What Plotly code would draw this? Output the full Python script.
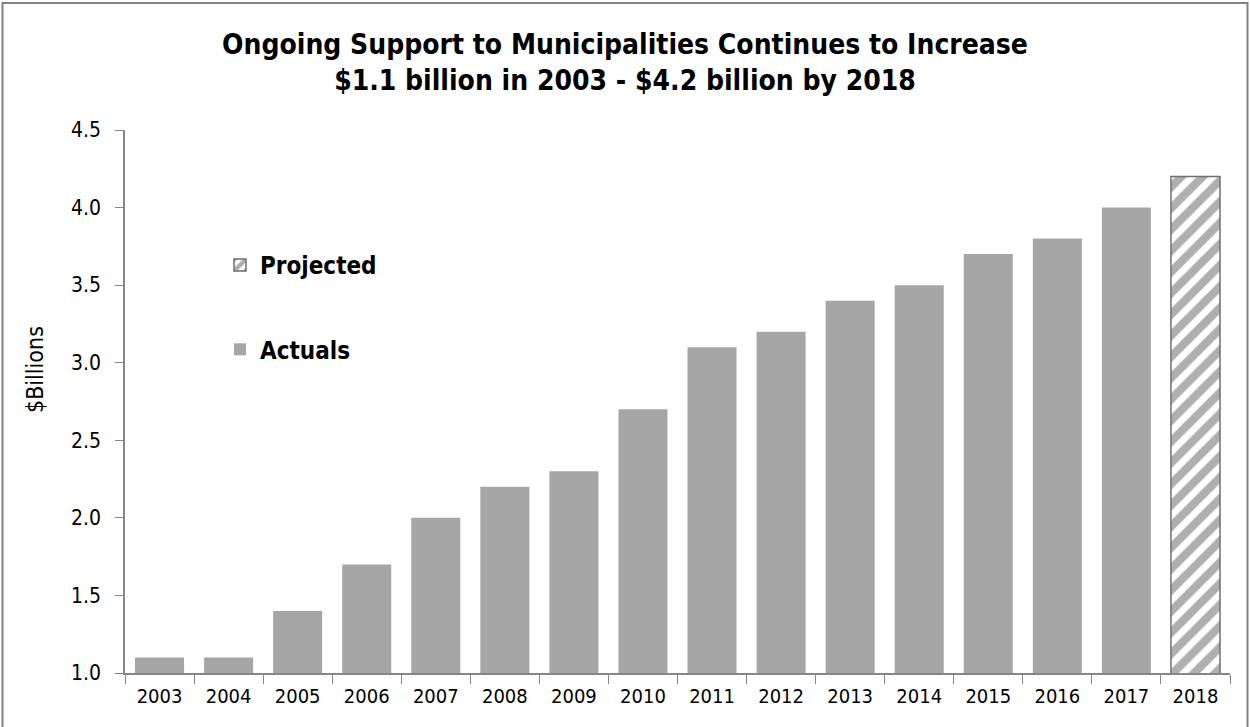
import plotly.graph_objects as go

years = ["2003", "2004", "2005", "2006", "2007", "2008", "2009", "2010",
         "2011", "2012", "2013", "2014", "2015", "2016", "2017", "2018"]
actual_years = years[:15]
actual_values = [1.1, 1.1, 1.4, 1.7, 2.0, 2.2, 2.3, 2.7, 3.1, 3.2, 3.4, 3.5, 3.7, 3.8, 4.0]
projected_years = ["2018"]
projected_values = [4.2]

FONT = "DejaVu Sans Condensed, Liberation Sans Narrow, sans-serif"
GRAY = "#A6A6A6"
AXIS = "#868686"

W, H = 1250, 727
ML, MR, MT, MB = 125, 20, 130, 54
PW, PH = W - ML - MR, H - MT - MB

fig = go.Figure()
fig.add_trace(go.Bar(
    x=projected_years, y=projected_values, name="Projected",
    legendgroup="p",
    marker=dict(color="white",
                line=dict(color="#6F6F6F", width=1.5),
                pattern=dict(shape="/", fgcolor="#5F5F5F", bgcolor="white",
                             size=15, solidity=0.55)),
))
fig.add_trace(go.Bar(
    x=actual_years, y=actual_values, name="Actuals",
    legendgroup="a",
    marker=dict(color=GRAY, line=dict(width=0)),
))

fig.update_layout(
    width=W, height=H,
    margin=dict(l=ML, r=MR, t=MT, b=MB),
    paper_bgcolor="white", plot_bgcolor="white",
    barmode="overlay", bargap=0.29,
    title=dict(
        text="Ongoing Support to Municipalities Continues to Increase<br>$1.1 billion in 2003 - $4.2 billion by 2018",
        x=0.5, xanchor="center", y=0.926, yanchor="top",
        font=dict(family=FONT, size=28, color="black", weight="bold"),
    ),
    legend=dict(
        x=(220 - ML) / PW, y=(673 - 243) / PH, xanchor="left", yanchor="top",
        bgcolor="rgba(0,0,0,0)", tracegroupgap=50,
        font=dict(family=FONT, size=24, color="black", weight="bold"),
        itemwidth=30,
    ),
    showlegend=True,
    xaxis=dict(
        type="category", categoryorder="array", categoryarray=years,
        range=[-0.5, 15.5],
        showline=True, linecolor=AXIS, linewidth=1.5,
        ticks="outside", tickson="boundaries", ticklen=9, tickcolor=AXIS,
        tickfont=dict(family=FONT, size=20, color="black"),
        ticklabelstandoff=4,
        showgrid=False, zeroline=False,
    ),
    yaxis=dict(
        range=[1.0, 4.5], tick0=1.0, dtick=0.5, tickformat=".1f",
        showline=True, linecolor=AXIS, linewidth=1.5,
        ticks="outside", ticklen=8, tickcolor=AXIS,
        tickfont=dict(family=FONT, size=21, color="black"),
        ticklabelstandoff=10,
        showgrid=False, zeroline=False,
    ),
    annotations=[dict(
        text="$Billions", textangle=-90, showarrow=False,
        xref="paper", yref="paper",
        x=(35 - ML) / PW, y=(673 - 370) / PH, xanchor="center", yanchor="middle",
        font=dict(family=FONT, size=23, color="black"),
    )],
    shapes=[dict(
        type="rect", xref="paper", yref="paper",
        x0=(2.5 - ML) / PW, x1=(1247.5 - ML) / PW,
        y0=-0.5, y1=(H - MB - 3) / PH,
        line=dict(color="#808080", width=2), fillcolor="rgba(0,0,0,0)",
        layer="below",
    )],
)

fig.write_html("out.html")
